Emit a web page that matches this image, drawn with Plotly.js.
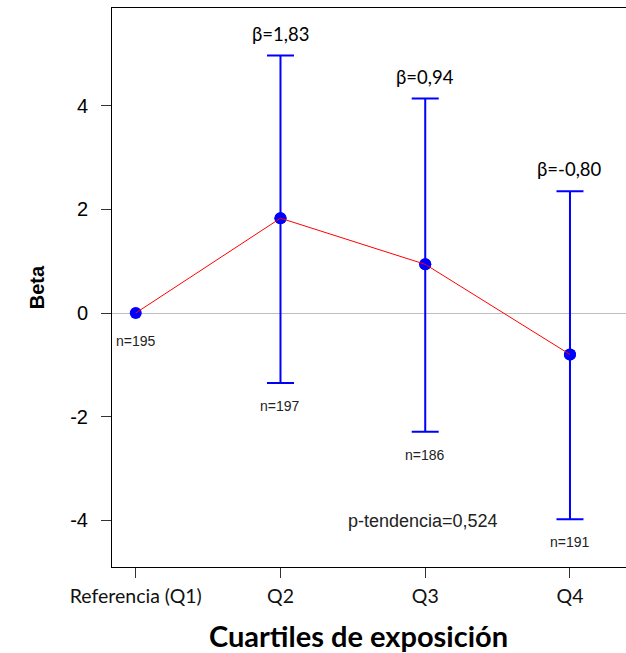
<!DOCTYPE html>
<html>
<head>
<meta charset="utf-8">
<script src="https://cdn.plot.ly/plotly-3.0.1.min.js"></script>
<style>html,body{margin:0;padding:0;background:#fff;}#chart{width:626px;height:653px;}</style>
</head>
<body>
<div id="chart"></div>
<script>
// Data
var categories = ["Referencia (Q1)", "Q2", "Q3", "Q4"];
var beta = [0, 1.83, 0.94, -0.80];
var ciUpper = [null, 4.97, 4.14, 2.35];
var ciLower = [null, -1.35, -2.29, -3.98];
var nLabels = ["n=195", "n=197", "n=186", "n=191"];
var pTrendText = "p-tendencia=0,524";
var xTitle = "Cuartiles de exposición";
var yTitle = "Beta";
var yTickVals = [-4, -2, 0, 2, 4];

var blue = "#0000FF";

// error bar trace (only quartiles with CI)
var errX = [], errY = [], errPlus = [], errMinus = [];
for (var i = 0; i < categories.length; i++) {
  if (ciUpper[i] !== null) {
    errX.push(categories[i]);
    errY.push(beta[i]);
    errPlus.push(ciUpper[i] - beta[i]);
    errMinus.push(beta[i] - ciLower[i]);
  }
}

var traces = [
  {
    type: "scatter", mode: "markers", x: errX, y: errY,
    marker: {color: blue, size: 12},
    error_y: {type: "data", symmetric: false, array: errPlus, arrayminus: errMinus,
              color: blue, thickness: 2, width: 13.5},
    hoverinfo: "skip", showlegend: false
  },
  {
    type: "scatter", mode: "markers", x: categories, y: beta,
    marker: {color: blue, size: 12}, showlegend: false
  },
  {
    type: "scatter", mode: "lines", x: categories, y: beta,
    line: {color: "#FF0000", width: 1}, showlegend: false
  }
];

var annotations = [];
for (var j = 0; j < categories.length; j++) {
  if (ciUpper[j] !== null) {
    annotations.push({
      x: categories[j], y: ciUpper[j], xref: "x", yref: "y",
      text: "β=" + beta[j].toFixed(2).replace(".", ","),
      showarrow: false, yanchor: "middle", yshift: 22,
      font: {family: "Lato, 'Open Sans', sans-serif", size: 18.5, color: "#000"}
    });
  }
  var low = ciLower[j] !== null ? ciLower[j] : beta[j];
  annotations.push({
    x: categories[j], y: low, xref: "x", yref: "y",
    text: nLabels[j], showarrow: false, yanchor: "middle",
    yshift: ciLower[j] !== null ? -23 : -28,
    font: {family: "'Liberation Sans', Arial, sans-serif", size: 14, color: "#222"}
  });
}
annotations.push({
  x: 0.6045, y: 0.0816, xref: "paper", yref: "paper", text: pTrendText,
  showarrow: false, xanchor: "center", yanchor: "middle",
  font: {family: "'Liberation Sans', Arial, sans-serif", size: 18, color: "#222"}
});
annotations.push({
  x: 0.4805, y: -0.1229, xref: "paper", yref: "paper", text: "<b>" + xTitle + "</b>",
  showarrow: false, xanchor: "center", yanchor: "middle",
  font: {family: "Lato, 'Open Sans', sans-serif", size: 29, color: "#000"}
});
annotations.push({
  x: -0.1465, y: 0.5, xref: "paper", yref: "paper", text: "<b>" + yTitle + "</b>",
  showarrow: false, xanchor: "center", yanchor: "middle", textangle: -90,
  font: {family: "'Liberation Sans', Arial, sans-serif", size: 20, color: "#000"}
});

var layout = {
  width: 626, height: 653,
  margin: {l: 112, r: 0, t: 8, b: 86, pad: 0},
  paper_bgcolor: "#fff", plot_bgcolor: "#fff",
  showlegend: false,
  xaxis: {
    type: "category", categoryorder: "array", categoryarray: categories,
    range: [-0.164, 3.387], showgrid: false, zeroline: false,
    showline: true, linecolor: "#000", linewidth: 1, mirror: true,
    ticks: "outside", ticklen: 10, tickcolor: "#333", tickwidth: 1,
    ticklabelstandoff: 2,
    tickfont: {family: "Lato, 'Open Sans', sans-serif", size: 19.5, color: "#111"}
  },
  yaxis: {
    range: [-4.903, 5.888], tickvals: yTickVals, ticktext: yTickVals.map(String),
    showgrid: false, zeroline: true, zerolinecolor: "#BEBEBE", zerolinewidth: 1,
    showline: true, linecolor: "#000", linewidth: 1,
    ticks: "outside", ticklen: 10, tickcolor: "#333", tickwidth: 1,
    ticklabelstandoff: 9,
    tickfont: {family: "'Liberation Sans', Arial, sans-serif", size: 20, color: "#000"}
  },
  annotations: annotations
};

Plotly.newPlot("chart", traces, layout, {displayModeBar: false, staticPlot: true});
</script>
</body>
</html>
